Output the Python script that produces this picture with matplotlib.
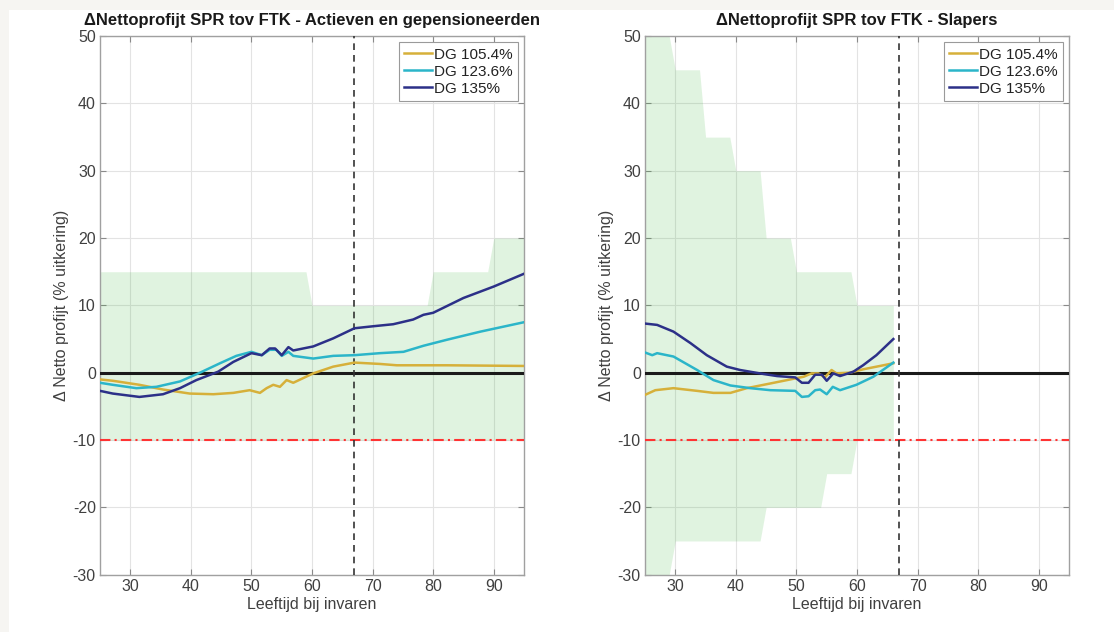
#!/usr/bin/env python3
import matplotlib
matplotlib.use("Agg")
import matplotlib.pyplot as plt
from matplotlib import rcParams
from matplotlib.patches import Rectangle

# --- data ---------------------------------------------------------------
labels = ["DG 105.4%", "DG 123.6%", "DG 135%"]
line_colors = ["#d6b03a", "#2bb5c9", "#2c3088"]
retire_age = 67
floor_value = -10

# left panel: actieven en gepensioneerden
band_age_l = [25, 59, 60, 79, 80, 89, 90, 95]
band_up_l = [15, 15, 10, 10, 15, 15, 20, 20]
band_lo_l = [-10, -10, -10, -10, -10, -10, -10, -10]

age_gold_l = [25, 27.1, 31.5, 35.4, 39.8, 43.7, 47, 49.7, 51.4, 52.5, 53.6, 54.7, 55.8,
              56.9, 60.2, 63.5, 67, 71.2, 74, 82.3, 95]
val_gold_l = [-1.0, -1.2, -1.8, -2.5, -3.1, -3.2, -3.0, -2.6, -3.0, -2.3, -1.8, -2.1, -1.1,
              -1.5, -0.1, 0.9, 1.5, 1.3, 1.1, 1.1, 1.0]
age_cyan_l = [25, 27.1, 31, 34.3, 38.2, 41.5, 44.8, 47.5, 50, 51.7, 53, 54.1, 55, 56.1,
              56.9, 60.2, 63.5, 67, 71.2, 75.1, 78.4, 82.3, 87.8, 95]
val_cyan_l = [-1.5, -1.8, -2.3, -2.1, -1.3, 0.0, 1.4, 2.5, 3.1, 2.6, 3.4, 3.4, 2.5, 3.1,
              2.5, 2.1, 2.5, 2.6, 2.9, 3.1, 4.0, 4.9, 6.1, 7.5]
age_navy_l = [25, 27.1, 31.5, 35.4, 38.2, 40.9, 44.5, 47, 50, 51.7, 53, 53.9, 55, 56.1,
              56.9, 60.2, 63.5, 67, 70.1, 73.4, 76.7, 78.4, 80, 85, 90, 95]
val_navy_l = [-2.7, -3.1, -3.6, -3.2, -2.3, -1.1, 0.15, 1.6, 2.9, 2.6, 3.6, 3.6, 2.6, 3.8,
              3.3, 3.9, 5.1, 6.6, 6.9, 7.2, 7.9, 8.6, 8.9, 11.1, 12.8, 14.7]

# right panel: slapers
band_age_r = [25, 29, 30, 34, 35, 39, 40, 44, 45, 49, 50, 54, 55, 59, 60, 66]
band_up_r = [50, 50, 45, 45, 35, 35, 30, 30, 20, 20, 15, 15, 15, 15, 10, 10]
band_lo_r = [-30, -30, -25, -25, -25, -25, -25, -25, -20, -20, -20, -20, -15, -15, -10, -10]

age_gold_r = [25, 26.7, 29.7, 33.6, 36.3, 39.1, 41.8, 45.7, 49, 51.2, 52.5, 53.6, 54.7,
              55.8, 56.6, 58.8, 61, 63.8, 66]
val_gold_r = [-3.3, -2.6, -2.3, -2.7, -3.0, -3.0, -2.3, -1.6, -1.0, -0.6, -0.1, -0.1, -0.7,
              0.4, -0.1, 0.0, 0.5, 1.0, 1.4]
age_cyan_r = [25, 26.2, 27, 29.7, 33.6, 36.3, 39.1, 42.4, 45.7, 49.8, 50.9, 52, 53.1, 53.9,
              55, 56, 57.2, 59.9, 62.7, 66]
val_cyan_r = [3.0, 2.6, 2.9, 2.4, 0.4, -1.1, -1.9, -2.3, -2.6, -2.7, -3.6, -3.5, -2.6, -2.5,
              -3.2, -2.1, -2.6, -1.8, -0.6, 1.5]
age_navy_r = [25, 27, 29.7, 32.5, 35.2, 38.5, 40.7, 44.6, 46.8, 49.8, 50.9, 52, 53.1, 54.2,
              55, 56.1, 57.2, 59.4, 61, 63.2, 66]
val_navy_r = [7.3, 7.1, 6.1, 4.4, 2.6, 0.9, 0.4, -0.2, -0.5, -0.7, -1.5, -1.5, -0.3, -0.3,
              -1.2, -0.1, -0.5, 0.15, 1.1, 2.6, 5.0]

x_ticks = [30, 40, 50, 60, 70, 80, 90]
y_ticks = [-30, -20, -10, 0, 10, 20, 30, 40, 50]


def draw_panel(ax, title, band, series):
    band_age, band_up, band_lo = band
    ax.fill_between(band_age, band_lo, band_up, color="#33b333", alpha=0.15,
                    linewidth=0, zorder=1)
    ax.axhline(0, color="#1a1a1a", linewidth=2.2, zorder=3)
    ax.axhline(floor_value, color="#ff3333", linewidth=1.5, linestyle="-.",
               dashes=(5, 2, 1, 2), zorder=3)
    ax.axvline(retire_age, color="#333333", linewidth=1.2, linestyle="--",
               dashes=(4, 3), zorder=3)
    lines = []
    for (ages, vals), color, label in zip(series, line_colors, labels):
        line, = ax.plot(ages, vals, color=color, linewidth=1.8, label=label, zorder=4)
        lines.append(line)

    ax.set_xlim(25, 95)
    ax.set_ylim(-30, 50)
    ax.set_xticks(x_ticks)
    ax.set_yticks(y_ticks)
    ax.grid(True, color="#e3e3e3", linewidth=0.8, zorder=0)
    ax.set_axisbelow(True)
    ax.tick_params(direction="in", length=4, width=0.8, color="#8a8a8a",
                   top=True, right=True, labelcolor="#404040", labelsize=11.5, pad=3)
    for spine in ax.spines.values():
        spine.set_color("#a0a0a0")
        spine.set_linewidth(1.0)
    ax.set_title(title, fontsize=12, fontweight="bold", color="#1a1a1a", pad=8)
    ax.set_xlabel("Leeftijd bij invaren", fontsize=11.5, color="#404040", labelpad=2)
    ax.set_ylabel("Δ Netto profijt (% uitkering)", fontsize=11.5, color="#404040", labelpad=3)

    leg = ax.legend(lines, labels, loc="upper right", fontsize=11, frameon=True,
                    fancybox=False, handlelength=1.8, handletextpad=0.15,
                    labelspacing=0.2, borderpad=0.35, borderaxespad=0.4)
    leg.get_frame().set_edgecolor("#9a9a9a")
    leg.get_frame().set_linewidth(0.8)
    leg.get_frame().set_alpha(1.0)
    for text in leg.get_texts():
        text.set_color("#222222")


def main():
    rcParams["font.family"] = ["Liberation Sans", "DejaVu Sans"]
    rcParams["axes.unicode_minus"] = False

    fig = plt.figure(figsize=(11.14, 6.32), dpi=100)
    fig.patch.set_facecolor("#f6f5f2")
    fig.patches.append(Rectangle((9 / 1114, 0), 1, 1 - 10 / 632, transform=fig.transFigure,
                                 facecolor="white", edgecolor="none", zorder=-10))

    ax_l = fig.add_axes([0.0898, 0.0908, 0.3806, 0.852])
    ax_r = fig.add_axes([0.579, 0.0908, 0.3806, 0.852])

    draw_panel(ax_l, "ΔNettoprofijt SPR tov FTK - Actieven en gepensioneerden",
               (band_age_l, band_up_l, band_lo_l),
               [(age_gold_l, val_gold_l), (age_cyan_l, val_cyan_l), (age_navy_l, val_navy_l)])
    draw_panel(ax_r, "ΔNettoprofijt SPR tov FTK - Slapers",
               (band_age_r, band_up_r, band_lo_r),
               [(age_gold_r, val_gold_r), (age_cyan_r, val_cyan_r), (age_navy_r, val_navy_r)])

    fig.savefig("out.png", dpi=100, facecolor=fig.get_facecolor())


if __name__ == "__main__":
    main()
